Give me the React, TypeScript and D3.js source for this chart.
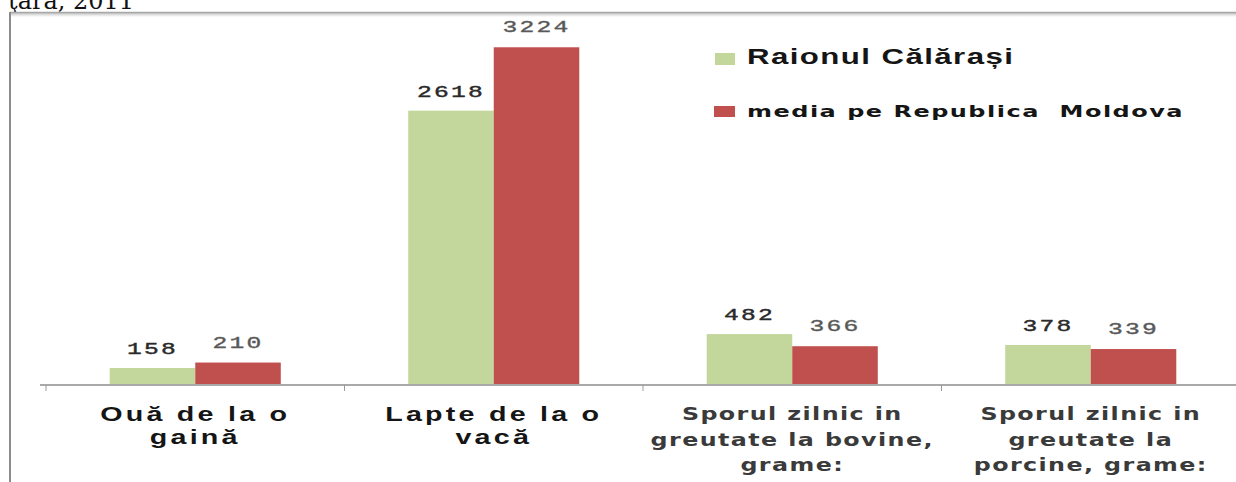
import React from "react";
import * as d3 from "d3";

const categories = ["oua", "lapte", "bovine", "porcine"];
const categoryLabels: string[][] = [
  ["Ouă de la o", "gaină"],
  ["Lapte de la o", "vacă"],
  ["Sporul zilnic in", "greutate la bovine,", "grame:"],
  ["Sporul zilnic in", "greutate la", "porcine, grame:"],
];
const seriesNames = ["Raionul Călărași", "media pe Republica  Moldova"];
const calarasi = [158, 2618, 482, 378];
const moldova = [210, 3224, 366, 339];
const seriesColors = ["#c3d69b", "#c0504d"];
const titleText = "ţara, 2011";

const W = 1236;
const H = 482;

export default function App() {
  const x0 = d3.scaleBand<string>().domain(categories).range([46, 1240]).padding(0);
  const x1 = d3
    .scaleBand<number>()
    .domain([0, 1])
    .range([0, x0.bandwidth()])
    .paddingInner(0)
    .paddingOuter(0.745);
  const y = d3.scaleLinear().domain([0, 3500]).range([384.5, 18.4]);
  const base = y(0);
  const seriesData = [calarasi, moldova];
  const boundaries = categories.map((c) => x0(c) as number);

  const labelStretch = 1.4;

  return (
    <svg
      width={W}
      height={H}
      style={{ position: "absolute", left: 0, top: 0, background: "#fff" }}
    >
      <defs>
        <linearGradient id="topShadow" x1="0" x2="0" y1="0" y2="1">
          <stop offset="0" stopColor="#b8b8b8" />
          <stop offset="1" stopColor="#ffffff" />
        </linearGradient>
      </defs>
      <rect x={0} y={0} width={W} height={H} fill="#fff" />
      {/* cut-off title */}
      <text x={8} y={9} fontFamily="DejaVu Serif, serif" fontSize={24} fill="#111">
        {titleText}
      </text>
      {/* frame */}
      <rect x={10} y={12} width={W - 10} height={5} fill="url(#topShadow)" />
      <line x1={10} x2={W} y1={12.5} y2={12.5} stroke="#a8a8a8" strokeWidth={1.5} />
      <line x1={10} x2={10} y1={12} y2={H} stroke="#8c8c8c" strokeWidth={2} />

      {/* bars */}
      {categories.map((c, ci) => (
        <g key={c} transform={`translate(${x0(c)},0)`}>
          {seriesData.map((vals, si) => (
            <rect
              key={si}
              x={x1(si)}
              y={y(vals[ci])}
              width={x1.bandwidth()}
              height={base - y(vals[ci])}
              fill={seriesColors[si]}
            />
          ))}
          {seriesData.map((vals, si) => {
            const cx = (x1(si) as number) + x1.bandwidth() / 2;
            const ty = y(vals[ci]) - (si === 0 ? 14 : 15);
            return (
              <text
                key={"l" + si}
                transform={`translate(${cx},${ty}) scale(1.45,1)`}
                textAnchor="middle"
                fontFamily="Liberation Mono, monospace"
                fontWeight="normal"
                fontSize={17}
                letterSpacing={1.5}
                stroke={si === 0 ? "#2a2a2a" : "#666"}
                strokeWidth={0.4}
                fill={si === 0 ? "#2a2a2a" : "#555"}
              >
                {vals[ci]}
              </text>
            );
          })}
        </g>
      ))}

      {/* axis */}
      <line x1={40} x2={W} y1={385} y2={385} stroke="#a9a9a9" strokeWidth={2} />
      {boundaries.map((bx, i) => (
        <line key={i} x1={bx} x2={bx} y1={385} y2={391} stroke="#9a9a9a" strokeWidth={1} />
      ))}

      {/* category labels */}
      {categories.map((c, ci) => {
        const cx = (x0(c) as number) + x0.bandwidth() / 2;
        const lines = categoryLabels[ci];
        const isSans = ci < 2;
        return lines.map((ln, li) => {
          const ty = isSans ? 421 + li * 23 : 420 + li * 25.5;
          return (
            <text
              key={c + li}
              transform={`translate(${cx},${ty}) scale(${labelStretch},1)`}
              textAnchor="middle"
              fontFamily={isSans ? "Liberation Sans, Arial, sans-serif" : "DejaVu Sans, sans-serif"}
              fontWeight="bold"
              fontSize={isSans ? 20.5 : 17}
              letterSpacing={isSans ? 2.3 : 1}
              fill={isSans ? "#151515" : "#3a3a3a"}
            >
              {ln}
            </text>
          );
        });
      })}

      {/* legend */}
      <rect x={715} y={53} width={20} height={12} fill={seriesColors[0]} />
      <text
        transform={`translate(747,64) scale(1.42,1)`}
        fontFamily="Liberation Sans, Arial, sans-serif"
        fontWeight="bold"
        fontSize={22}
        letterSpacing={1}
        fill="#151515"
      >
        {seriesNames[0]}
      </text>
      <rect x={714} y={106} width={21} height={11} fill={seriesColors[1]} />
      <text
        transform={`translate(747,117) scale(1.5,1)`}
        fontFamily="DejaVu Sans, sans-serif"
        fontWeight="bold"
        fontSize={16}
        letterSpacing={1}
        fill="#151515"
        style={{ whiteSpace: "pre" }}
      >
        {seriesNames[1]}
      </text>
    </svg>
  );
}
